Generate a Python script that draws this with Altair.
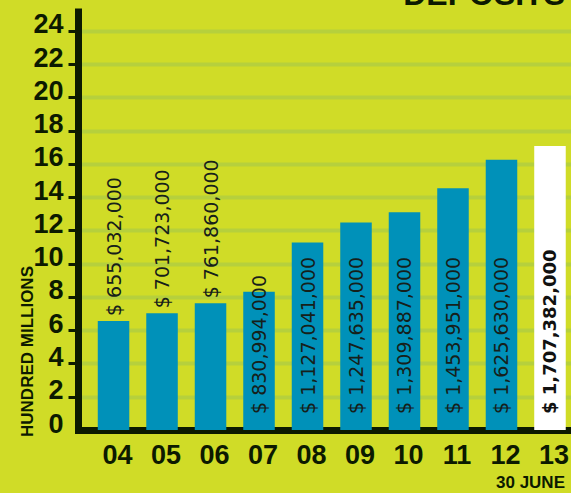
import altair as alt
import pandas as pd

# ---- data ----
years = ["04", "05", "06", "07", "08", "09", "10", "11", "12", "13"]
deposits = [655032000, 701723000, 761860000, 830994000, 1127041000,
            1247635000, 1309887000, 1453951000, 1625630000, 1707382000]
label_pos = ["above", "above", "above", "inside", "inside",
             "inside", "inside", "inside", "inside", "inside"]
latest = [False, False, False, False, False, False, False, False, False, True]
y_ticks = [0, 2, 4, 6, 8, 10, 12, 14, 16, 18, 20, 22, 24]
title_text = "DEPOSITS"
y_title = "HUNDRED MILLIONS"
note_year = ["13"]
note_text = ["30 JUNE"]

# ---- styling ----
BG = "#d0dc27"
GRID = "#b6d03c"
BLUE = "#0091b9"
DARK = "#0c1a00"
TXT = "#16201a"
BOLDF = "Liberation Sans, Arial, sans-serif"
SANS = "DejaVu Sans, Verdana, sans-serif"

df = pd.DataFrame({
    "year": years,
    "deposits": deposits,
    "pos": label_pos,
    "latest": latest,
})
df["hm"] = df["deposits"] / 1e8
df["label"] = ["$ " + f"{v:,}" for v in deposits]

note_df = pd.DataFrame({"year": note_year, "note": note_text})

x_scale = alt.Scale(paddingInner=0.35, paddingOuter=0.258, align=0.79)
y_scale = alt.Scale(domain=[0, 25.38], nice=False, zero=True)

x_axis = alt.Axis(
    title=None, labelAngle=0, labelFont=BOLDF, labelFontSize=27,
    labelFontWeight="bold", labelColor=DARK, labelPadding=33, labelOffset=4,
    labelBaseline="alphabetic", ticks=False, tickSize=0, domainColor=DARK,
    domainWidth=7, domainCap="square", labelOverlap=False, grid=False,
)
y_axis = alt.Axis(
    values=y_ticks, title=y_title, titleFont=BOLDF, titleFontSize=17,
    titleFontWeight="bold", titleColor=DARK, titleAngle=270, titleX=-51,
    titleY=343, titleAlign="center", titleBaseline="middle",
    labelFont=BOLDF, labelFontSize=27, labelFontWeight="bold",
    labelColor=DARK, labelPadding=5, labelBaseline="alphabetic",
    labelOffset=2, labelOverlap=False, tickSize=10, tickWidth=3,
    tickColor=DARK,
    tickOpacity={"condition": {"test": "datum.value === 0", "value": 0}, "value": 1},
    domainColor=DARK, domainWidth=7, grid=True, gridColor=GRID, gridWidth=4,
)

base = alt.Chart(df)

X = alt.X("year:N", scale=x_scale, axis=x_axis)
Y = alt.Y("hm:Q", scale=y_scale, axis=y_axis)
Y0 = alt.YDatum(0, scale=y_scale, axis=y_axis)

bars = base.mark_bar().encode(
    x=X,
    y=Y,
    color=alt.condition("datum.latest", alt.value("#ffffff"), alt.value(BLUE)),
)

above = base.transform_filter("datum.pos == 'above'").mark_text(
    angle=270, align="left", baseline="middle", dx=5, dy=1,
    font=SANS, fontSize=19, color=TXT,
).encode(x=X, y=Y, text="label:N")

inside = base.transform_filter("datum.pos == 'inside' && !datum.latest").mark_text(
    angle=270, align="left", baseline="middle", dx=16, dy=1,
    font=SANS, fontSize=19, color=TXT,
).encode(x=X, y=Y0, text="label:N")

last = base.transform_filter("datum.latest").mark_text(
    angle=270, align="left", baseline="middle", dx=16, dy=1,
    font=SANS, fontSize=18, fontWeight="bold", color="#111111",
).encode(x=X, y=Y0, text="label:N")

note = alt.Chart(note_df).mark_text(
    align="right", baseline="alphabetic", dx=15, dy=58,
    font=BOLDF, fontSize=17, fontWeight="bold", color=DARK,
).encode(x=X, y=Y0, text="note:N")

chart = alt.layer(bars, above, inside, last, note).properties(
    width=493,
    height=422,
    autosize="none",
    padding={"left": 78, "top": 8, "right": 0, "bottom": 63},
    background=BG,
    title=alt.TitleParams(
        text=title_text, anchor="end", frame="group", font=BOLDF,
        fontSize=32, fontWeight="bold", color=DARK, offset=1,
        baseline="alphabetic", dx=-6, dy=30,
    ),
).configure_view(strokeWidth=0)

chart.save("out.html", embed_options={"renderer": "svg", "actions": False})
